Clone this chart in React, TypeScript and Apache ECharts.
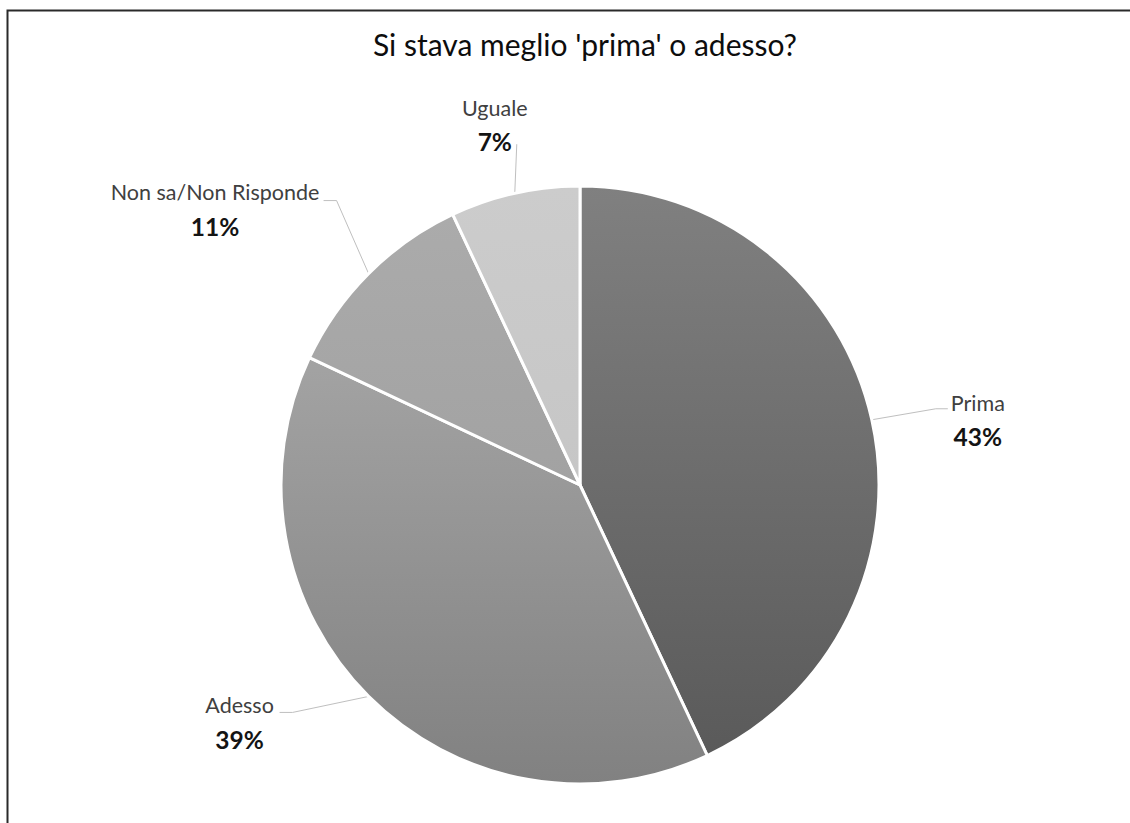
import React, { useEffect, useRef } from "react";
import * as echarts from "echarts";

const TITLE = "Si stava meglio 'prima' o adesso?";
const categories = ["Prima", "Adesso", "Non sa/Non Risponde", "Uguale"];
const values = [43, 39, 11, 7];

// slice colours: [top, bottom] of a vertical gradient
const sliceColors: [string, string][] = [
  ["#808080", "#5a5a5a"],
  ["#a3a3a3", "#818181"],
  ["#ababab", "#a2a2a2"],
  ["#cccccc", "#c6c6c6"],
];

// label placement relative to the slice's edge point given by the library
// [label dx, label dy, bend dx, bend dy, end dx, end dy]
const labelOffsets: number[][] = [
  [106, 0, 64, -11, 76, -11],
  [-129, 26, -76, 16, -89, 16],
  [-153.5, -64.5, -32, -73, -45, -73],
  [-20, -68.5, 2, -49, 2, -49],
];

export default function App() {
  const ref = useRef<HTMLDivElement>(null);
  useEffect(() => {
    document.body.style.margin = "0";
    const chart = echarts.init(ref.current!, undefined, { renderer: "svg" });
    const data = categories.map((name, i) => ({
      name,
      value: values[i],
      itemStyle: {
        color: new echarts.graphic.LinearGradient(0, 0, 0, 1, [
          { offset: 0, color: sliceColors[i][0] },
          { offset: 1, color: sliceColors[i][1] },
        ]),
      },
    }));
    chart.setOption({
      animation: false,
      backgroundColor: "#ffffff",
      title: {
        text: TITLE,
        left: 585,
        top: 29,
        padding: 0,
        textAlign: "center",
        textStyle: {
          fontFamily: "Lato",
          fontSize: 30,
          fontWeight: "normal",
          color: "#0d0d0d",
        },
      },
      graphic: [
        {
          type: "rect",
          shape: { x: 7.5, y: 10.5, width: 1300, height: 1000 },
          style: { fill: "none", stroke: "#2a2a2a", lineWidth: 2 },
          silent: true,
        },
      ],
      series: [
        {
          type: "pie",
          center: [580, 485],
          radius: 299,
          startAngle: 90,
          clockwise: true,
          avoidLabelOverlap: false,
          itemStyle: { borderColor: "#ffffff", borderWidth: 3 },
          label: {
            show: true,
            position: "outside",
            formatter: "{n|{b}}\n{p|{c}%}",
            rich: {
              n: {
                fontFamily: "Lato",
                fontSize: 21.5,
                color: "#404040",
                lineHeight: 34,
              },
              p: {
                fontFamily: "Lato",
                fontSize: 24.5,
                fontWeight: "bold",
                color: "#141414",
                lineHeight: 34,
              },
            },
          },
          labelLine: {
            show: true,
            length: 40,
            length2: 10,
            smooth: false,
            lineStyle: { color: "#bfbfbf", width: 1 },
          },
          labelLayout: (params: any) => {
            const o = labelOffsets[params.dataIndex];
            const pts = params.labelLinePoints;
            if (!pts || !o) return {};
            const a = pts[0];
            return {
              x: a[0] + o[0],
              y: a[1] + o[1],
              align: "center",
              verticalAlign: "middle",
              labelLinePoints: [
                [a[0], a[1]],
                [a[0] + o[2], a[1] + o[3]],
                [a[0] + o[4], a[1] + o[5]],
              ],
            };
          },
          emphasis: { disabled: true },
          data,
        },
      ],
    });
    return () => chart.dispose();
  }, []);
  return <div ref={ref} style={{ width: 1130, height: 823 }} />;
}
